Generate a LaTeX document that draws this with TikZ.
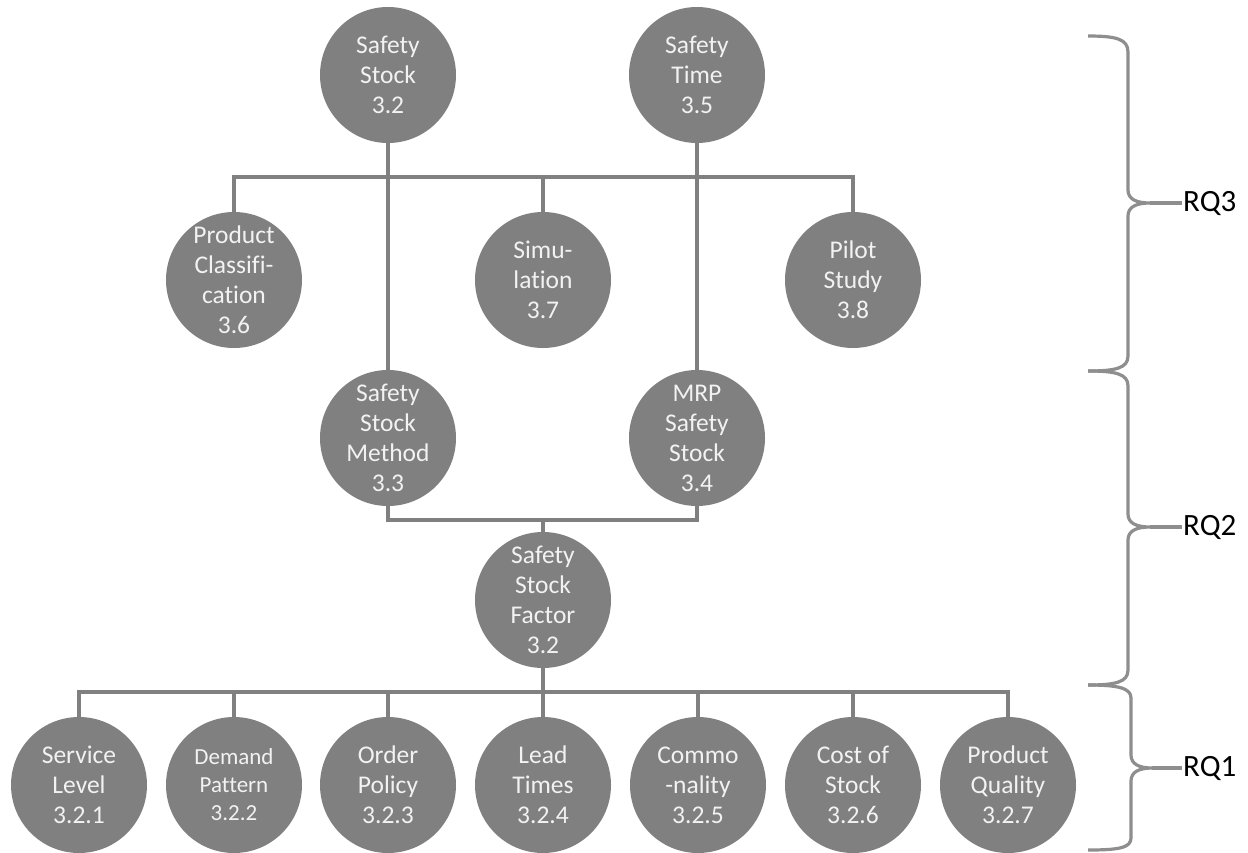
\documentclass[tikz,border=0pt]{standalone}
\usepackage{fontspec}
\setmainfont{Carlito}[Ligatures=NoCommon]
\definecolor{circ}{HTML}{808080}
\definecolor{conn}{HTML}{808080}
\definecolor{brc}{HTML}{8E8E8E}
\definecolor{ctext}{HTML}{F2F2F2}
\begin{document}
\begin{tikzpicture}[x=1pt,y=-1pt,
  topic/.style={circle,fill=circ,draw=none,minimum size=136pt,inner sep=0pt,
    text=ctext,align=center,font=\fontsize{25.5}{30}\selectfont},
  small/.style={font=\fontsize{23}{28}\selectfont},
  link/.style={draw=conn,line width=4pt},
  bracestyle/.style={draw=brc,line width=3.2pt,line join=round},
  rqlabel/.style={anchor=west,inner sep=1pt,font=\fontsize{31}{34}\selectfont,text=black}]
\useasboundingbox (0,0) rectangle (1248,852);
\fill[white] (0,0) rectangle (1248,852);

% bus coordinates
\coordinate (bus1) at (543,177);
\coordinate (bus2) at (543,520);
\coordinate (bus3) at (543,692);

% nodes
\node[topic] (ss)  at (388,75)  {Safety\\Stock\\3.2};
\node[topic] (st)  at (697,75)  {Safety\\Time\\3.5};
\node[topic] (pc)  at (234,280) {Product\\Classifi-\\cation\\3.6};
\node[topic] (sim) at (543,280) {Simu-\\lation\\3.7};
\node[topic] (pil) at (853,280) {Pilot\\Study\\3.8};
\node[topic] (ssm) at (388,438) {Safety\\Stock\\Method\\3.3};
\node[topic] (mrp) at (697,438) {MRP\\Safety\\Stock\\3.4};
\node[topic] (ssf) at (543,600) {Safety\\Stock\\Factor\\3.2};
\node[topic] (b1) at (79,785)   {Service\\Level\\3.2.1};
\node[topic,small] (b2) at (234,785)  {Demand\\Pattern\\3.2.2};
\node[topic] (b3) at (388,785)  {Order\\Policy\\3.2.3};
\node[topic] (b4) at (543,785)  {Lead\\Times\\3.2.4};
\node[topic] (b5) at (698,785)  {Commo\\-nality\\3.2.5};
\node[topic] (b6) at (853,785)  {Cost of\\Stock\\3.2.6};
\node[topic] (b7) at (1008,785) {Product\\Quality\\3.2.7};

% connectors
\path[link] (pc) |- (bus1);
\path[link] (pil) |- (bus1);
\path[link] (bus1) -- (sim);
\path[link] (ss) -- (ssm);
\path[link] (st) -- (mrp);
\path[link] (ssm) |- (bus2);
\path[link] (mrp) |- (bus2);
\path[link] (bus2) -- (ssf);
\path[link] (ssf) -- (b4);
\foreach \n in {b1,b2,b3,b5,b6,b7} {\path[link] (\n) |- (bus3);}

% labels
\node[rqlabel] (rq3) at (1182,203) {RQ3};
\node[rqlabel] (rq2) at (1182,527) {RQ2};
\node[rqlabel] (rq1) at (1182,768) {RQ1};

% braces
\path[bracestyle] (1088,36) .. controls (1116,36) and (1128,39) .. (1128,52)
  -- (1128,190) .. controls (1128,199) and (1136,203) .. (1150,203)
  .. controls (1136,203) and (1128,207) .. (1128,216)
  -- (1128,356) .. controls (1128,368) and (1116,371) .. (1088,371);
\path[bracestyle] (1150,203) -- (rq3.west);

\path[bracestyle] (1088,371) .. controls (1116,371) and (1128,374) .. (1128,386)
  -- (1128,514) .. controls (1128,523) and (1136,527) .. (1150,527)
  .. controls (1136,527) and (1128,531) .. (1128,540)
  -- (1128,670) .. controls (1128,682) and (1116,685) .. (1088,685);
\path[bracestyle] (1150,527) -- (rq2.west);

\path[bracestyle] (1088,685) .. controls (1118,685) and (1131,688) .. (1131,698)
  -- (1131,755) .. controls (1131,764) and (1139,768) .. (1152,768)
  .. controls (1139,768) and (1131,772) .. (1131,781)
  -- (1131,838) .. controls (1131,848) and (1118,850) .. (1088,850);
\path[bracestyle] (1152,768) -- (rq1.west);
\end{tikzpicture}
\end{document}
